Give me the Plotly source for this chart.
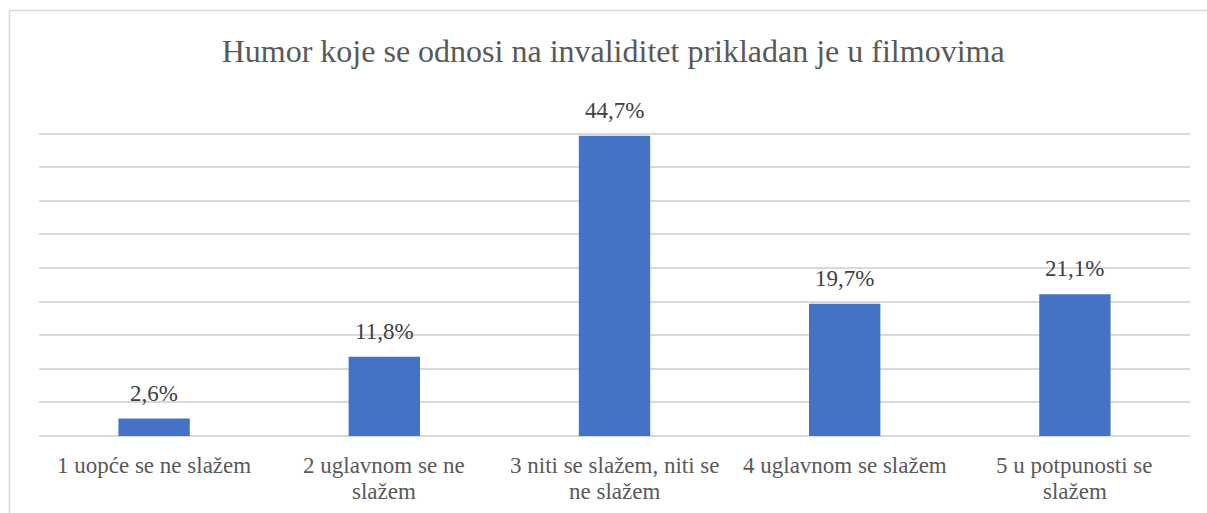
import plotly.graph_objects as go

categories = ["1 uopće se ne slažem", "2 uglavnom se ne slažem", "3 niti se slažem, niti se ne slažem",
              "4 uglavnom se slažem", "5 u potpunosti se slažem"]
tick_lines = [["1 uopće se ne slažem"], ["2 uglavnom se ne", "slažem"], ["3 niti se slažem, niti se", "ne slažem"],
              ["4 uglavnom se slažem"], ["5 u potpunosti se", "slažem"]]
values = [2.6, 11.8, 44.7, 19.7, 21.1]
value_labels = ["2,6%", "11,8%", "44,7%", "19,7%", "21,1%"]
title_text = "Humor koje se odnosi na invaliditet prikladan je u filmovima"

W, H = 1207, 513
L, R, T, B = 39, 17, 100, 77
pw, ph = W - L - R, H - T - B
SERIF = "Liberation Serif"

fig = go.Figure(go.Bar(
    x=categories, y=values,
    marker=dict(color="#4472C4", line=dict(width=0)),
    cliponaxis=False, hoverinfo="skip",
))

for cat, v, lab in zip(categories, values, value_labels):
    fig.add_annotation(x=cat, y=v, xref="x", yref="y", text=lab, showarrow=False,
                       yanchor="bottom", yshift=11,
                       font=dict(family=SERIF, size=23, color="#404040"))

for cat, lines in zip(categories, tick_lines):
    for i, line in enumerate(lines):
        fig.add_annotation(x=cat, y=0, xref="x", yref="y", text=line, showarrow=False,
                           yanchor="top", yshift=-15 - 26 * i,
                           font=dict(family=SERIF, size=23, color="#595959"))

def px_x(x):
    return (x - L) / pw

def px_y(y):
    return 1 - (y - T) / ph

border = "#D9D9D9"
fig.add_shape(type="line", xref="paper", yref="paper", x0=px_x(9.5), x1=px_x(1215),
              y0=px_y(10.5), y1=px_y(10.5), line=dict(color=border, width=1.5))
fig.add_shape(type="line", xref="paper", yref="paper", x0=px_x(9.5), x1=px_x(9.5),
              y0=px_y(10.5), y1=px_y(520), line=dict(color=border, width=1.5))

fig.update_layout(
    width=W, height=H,
    margin=dict(l=L, r=R, t=T, b=B),
    paper_bgcolor="white", plot_bgcolor="white",
    bargap=0.69,
    showlegend=False,
    title=dict(text=title_text, x=0.508, xanchor="center", y=1 - 51 / H, yanchor="middle",
               yref="container",
               font=dict(family=SERIF, size=32, color="#595959")),
    font=dict(family=SERIF, color="#595959"),
)
fig.update_xaxes(showticklabels=False, showline=False, ticks="")
fig.update_yaxes(range=[0, 50.02], tickvals=[0, 5, 10, 15, 20, 25, 30, 35, 40, 45, 50],
                 showticklabels=False, gridcolor=border, gridwidth=1.5,
                 zeroline=True, zerolinecolor=border, zerolinewidth=1.5, showline=False)

fig.write_html("out.html", config={"displayModeBar": False},
               post_script="document.body.style.margin='0';")
